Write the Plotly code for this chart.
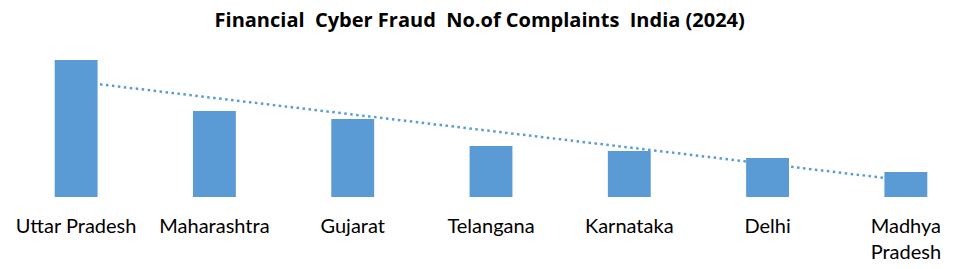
import numpy as np
import plotly.graph_objects as go

states = ["Uttar Pradesh", "Maharashtra", "Gujarat", "Telangana", "Karnataka", "Delhi", "Madhya<br>Pradesh"]
complaints = [274000, 172000, 156000, 102000, 92000, 78000, 50000]
title_text = "Financial&nbsp; Cyber Fraud&nbsp; No.of Complaints&nbsp; India (2024)"

idx = np.arange(len(complaints))
slope, intercept = np.polyfit(idx, complaints, 1)
trend = slope * idx + intercept

blue = "#5B9BD5"
font_fam = "Lato, 'Open Sans', sans-serif"

fig = go.Figure()
fig.add_trace(go.Scatter(
    x=states, y=trend, mode="lines",
    line=dict(color=blue, width=2.5, dash="2.5px,3.5px"),
    hoverinfo="skip", zorder=0, showlegend=False,
))
fig.add_trace(go.Bar(
    x=states, y=complaints, marker=dict(color=blue, line=dict(width=0)),
    width=0.31, zorder=1, showlegend=False,
))

ymax = max(complaints) * 157 / 137

fig.update_layout(
    width=975, height=269,
    margin=dict(l=7, r=0, t=40, b=72),
    paper_bgcolor="white", plot_bgcolor="white",
    title=dict(text="<b>" + title_text + "</b>", x=0.492, xanchor="center",
               y=0.925, yanchor="middle", yref="container",
               font=dict(family="'Open Sans', Lato, sans-serif", size=20, color="#000000")),
    xaxis=dict(showline=True, linecolor="#d9d9d9", linewidth=1, showgrid=False,
               ticks="", ticklabelstandoff=11,
               tickfont=dict(family=font_fam, size=20, color="#000000"),
               zeroline=False),
    yaxis=dict(visible=False, range=[0, ymax], showgrid=False, zeroline=False),
    bargap=0.69,
)

fig.write_html("out.html")
